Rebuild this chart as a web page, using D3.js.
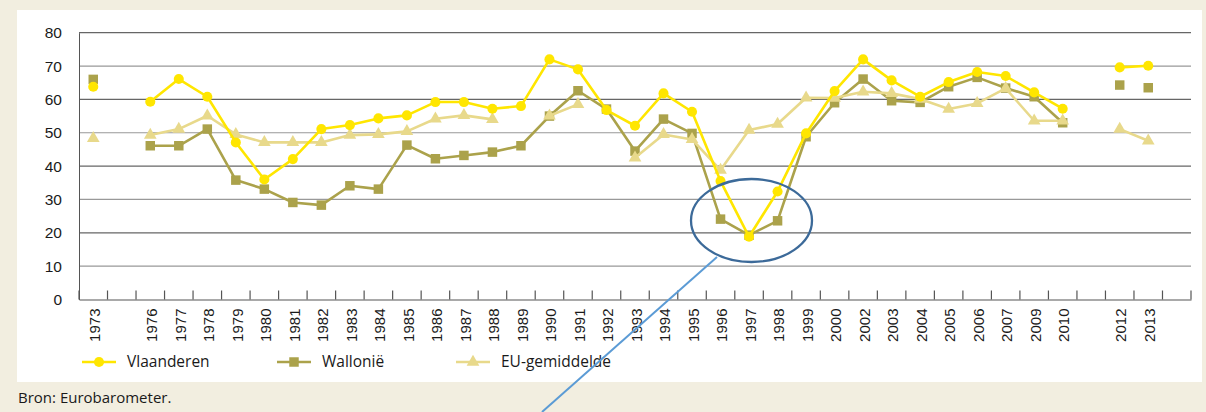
<!DOCTYPE html>
<html>
<head>
<meta charset="utf-8">
<script src="https://cdn.jsdelivr.net/npm/d3@7"></script>
<style>
  body { margin: 0; background: #f2eee0; }
  svg { display: block; font-family: "Open Sans", sans-serif; }
</style>
</head>
<body>
<div id="chart"></div>
<script>
// Years on the x axis ("" = empty slot)
const years = ["1973", "", "1976", "1977", "1978", "1979", "1980", "1981", "1982", "1983",
  "1984", "1985", "1986", "1987", "1988", "1989", "1990", "1991", "1992", "1993", "1994",
  "1995", "1996", "1997", "1998", "1999", "2000", "2002", "2003", "2004", "2005", "2006",
  "2007", "2009", "2010", "", "2012", "2013", ""];

const vlaanderen = [63.8, null, 59.3, 66.1, 60.8, 47.1, 36.0, 42.1, 51.1, 52.3, 54.3, 55.2,
  59.2, 59.2, 57.2, 58.0, 72.0, 69.0, 56.8, 52.1, 61.8, 56.3, 35.5, 18.8, 32.4, 49.8, 62.5,
  72.0, 65.7, 60.8, 65.2, 68.2, 67.0, 62.1, 57.2, null, 69.6, 70.1, null];

const wallonie = [66.0, null, 46.1, 46.1, 51.1, 35.8, 33.1, 29.1, 28.3, 34.1, 33.1, 46.3,
  42.2, 43.2, 44.2, 46.1, 55.0, 62.6, 57.1, 44.5, 54.1, 49.8, 24.1, 19.3, 23.6, 48.8, 59.0,
  66.1, 59.6, 59.1, 63.8, 66.6, 63.4, 60.8, 53.0, null, 64.3, 63.5, null];

const euGemiddelde = [48.3, null, 49.3, 51.1, 55.1, 49.5, 47.1, 47.1, 47.1, 49.3, 49.5, 50.4,
  54.2, 55.2, 54.0, null, 55.1, 58.5, null, 42.5, 49.5, 48.0, 38.8, 50.8, 52.6, 60.5, 60.4,
  62.3, 61.8, 60.1, 57.1, 58.8, 63.3, 53.6, 53.6, null, 51.1, 47.6, null];

// years where a series' line does not come in from the previous point
const wallonieBreaks = ["2013"];

const yTicks = [0, 10, 20, 30, 40, 50, 60, 70, 80];

const series = [
  { name: "Wallonië", values: wallonie, breaks: wallonieBreaks, color: "#aba24b", shape: d3.symbolSquare, size: 90 },
  { name: "EU-gemiddelde", values: euGemiddelde, breaks: [], color: "#e8d98b", shape: d3.symbolTriangle, size: 70 },
  { name: "Vlaanderen", values: vlaanderen, breaks: [], color: "#ffe600", shape: d3.symbolCircle, size: 80 }
];
const legendOrder = ["Vlaanderen", "Wallonië", "EU-gemiddelde"];

const width = 1206, height = 412;
const plotLeft = 79, plotRight = 1191, plotTop = 32.7, plotBottom = 299.5;

const svg = d3.select("#chart").append("svg")
  .attr("width", width)
  .attr("height", height);

// white panel
svg.append("rect")
  .attr("x", 17).attr("y", 10)
  .attr("width", 1185).attr("height", 372)
  .attr("fill", "#fff");

const x = d3.scaleBand()
  .domain(d3.range(years.length))
  .range([plotLeft, plotRight])
  .padding(0);

const y = d3.scaleLinear()
  .domain([0, 80])
  .range([plotBottom, plotTop]);

// gridlines
svg.append("g")
  .selectAll("line")
  .data(yTicks.filter(d => d > 0))
  .enter().append("line")
  .attr("x1", plotLeft).attr("x2", plotRight)
  .attr("y1", d => y(d)).attr("y2", d => y(d))
  .attr("stroke", (d, i) => i % 2 ? "#666" : "#999")
  .attr("stroke-width", 1.2);

// y axis
const yAxis = svg.append("g")
  .attr("transform", `translate(${plotLeft},0)`)
  .call(d3.axisLeft(y).tickValues(yTicks).tickSize(0).tickPadding(17));
yAxis.select(".domain").attr("stroke", "#555");
yAxis.selectAll("text").attr("font-size", 15.5).attr("fill", "#1a1a1a");

// x axis: labels centred in slots
const xAxis = svg.append("g")
  .attr("transform", `translate(0,${plotBottom})`)
  .call(d3.axisBottom(x).tickFormat(i => years[i]).tickSize(0));
xAxis.select(".domain").attr("stroke", "#555").attr("stroke-width", 1.2);
xAxis.selectAll("text")
  .attr("font-size", 15)
  .attr("fill", "#1a1a1a")
  .attr("transform", "rotate(-90)")
  .attr("text-anchor", "end")
  .attr("x", -9)
  .attr("y", 0)
  .attr("dy", "0.45em");

// slot boundary ticks pointing up
svg.append("g")
  .selectAll("line")
  .data(d3.range(years.length + 1))
  .enter().append("line")
  .attr("x1", i => i < years.length ? x(i) : plotRight)
  .attr("x2", i => i < years.length ? x(i) : plotRight)
  .attr("y1", plotBottom - 9).attr("y2", plotBottom)
  .attr("stroke", "#555")
  .attr("stroke-width", 1.2);

const cx = i => x(i) + x.bandwidth() / 2;

// series lines and markers
series.forEach(s => {
  const pts = s.values.map((v, i) => ({ i, v }));
  // line segments between neighbouring points that both have a value
  const segs = pts.slice(1)
    .map((d, k) => [pts[k], d])
    .filter(([a, b]) => a.v !== null && b.v !== null && !s.breaks.includes(years[b.i]));

  svg.append("g")
    .selectAll("line")
    .data(segs)
    .enter().append("line")
    .attr("x1", d => cx(d[0].i)).attr("y1", d => y(d[0].v))
    .attr("x2", d => cx(d[1].i)).attr("y2", d => y(d[1].v))
    .attr("stroke", s.color)
    .attr("stroke-width", 2.6)
    .attr("stroke-linecap", "round");

  svg.append("g")
    .selectAll("path")
    .data(pts.filter(d => d.v !== null))
    .enter().append("path")
    .attr("d", d3.symbol().type(s.shape).size(s.size))
    .attr("transform", d => `translate(${cx(d.i)},${y(d.v)})`)
    .attr("fill", s.color);
});

// legend
const legendX = [82, 277, 456];
const legend = svg.append("g")
  .selectAll("g")
  .data(legendOrder.map(n => series.find(s => s.name === n)))
  .enter().append("g")
  .attr("transform", (d, i) => `translate(${legendX[i]},362)`);

legend.append("line")
  .attr("x1", 0).attr("x2", 34)
  .attr("stroke", d => d.color)
  .attr("stroke-width", 2.4);

legend.append("path")
  .attr("d", d => d3.symbol().type(d.shape).size(d.size)())
  .attr("transform", "translate(17,0)")
  .attr("fill", d => d.color);

legend.append("text")
  .attr("x", 45)
  .attr("dy", "0.35em")
  .attr("font-size", 15.5)
  .attr("fill", "#1a1a1a")
  .text(d => d.name);

// source
svg.append("text")
  .attr("x", 18).attr("y", 398)
  .attr("dy", "0.35em")
  .attr("font-size", 15)
  .attr("fill", "#1a1a1a")
  .text("Bron: Eurobarometer.");

// annotation ellipse and pointer line
svg.append("ellipse")
  .attr("cx", 751.5).attr("cy", 220.5)
  .attr("rx", 60.5).attr("ry", 41.5)
  .attr("fill", "none")
  .attr("stroke", "#3c6a99")
  .attr("stroke-width", 2.3);

svg.append("line")
  .attr("x1", 717).attr("y1", 257)
  .attr("x2", 542).attr("y2", 412)
  .attr("stroke", "#5b9bd5")
  .attr("stroke-width", 2);
</script>
</body>
</html>
